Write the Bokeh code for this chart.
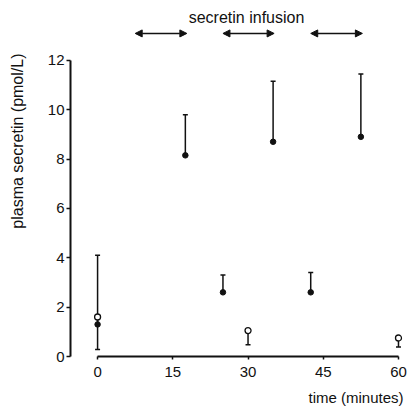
import math
from bokeh.plotting import figure
from bokeh.models import (Range1d, LinearAxis, FixedTicker, Label, Arrow, NormalHead,
                          Whisker, TeeHead, ColumnDataSource, Title)
from bokeh.embed import file_html
from bokeh.resources import INLINE

# ---- data ----
filled_t = [0, 17.5, 25, 35, 42.5, 52.5]
filled_mean = [1.3, 8.15, 2.6, 8.7, 2.6, 8.9]
filled_upper = [4.1, 9.8, 3.3, 11.15, 3.4, 11.45]

open_t = [0, 30, 60]
open_mean = [1.6, 1.05, 0.75]
open_lower = [0.28, 0.48, 0.38]

infusion_start = [7.5, 25, 42.5]
infusion_end = [17.8, 35.2, 52.8]

x_ticks = [0, 15, 30, 45, 60]
y_ticks = [0, 2, 4, 6, 8, 10, 12]

FONT = "Liberation Sans"
INK = "#111111"

p = figure(frame_width=333, frame_height=348, output_backend="svg", toolbar_location=None,
           x_range=Range1d(-5.4, 61), y_range=Range1d(0, 14.1),
           x_axis_type=None, y_axis_type=None,
           min_border_left=70, min_border_right=4, min_border_top=8, min_border_bottom=55)
p.outline_line_color = None
p.xgrid.visible = False
p.ygrid.visible = False
p.background_fill_color = "white"

xaxis = LinearAxis(ticker=FixedTicker(ticks=x_ticks), bounds=(0, 60))
yaxis = LinearAxis(ticker=FixedTicker(ticks=y_ticks), bounds=(0, 12))
for ax in (xaxis, yaxis):
    ax.axis_line_width = 2
    ax.axis_line_color = INK
    ax.major_tick_line_color = INK
    ax.major_tick_line_width = 1.5
    ax.major_tick_in = 0
    ax.minor_tick_line_color = None
    ax.major_label_text_font = FONT
    ax.major_label_text_font_size = "15px"
    ax.major_label_text_color = INK
xaxis.major_tick_out = 3
xaxis.major_label_standoff = 7
yaxis.major_tick_out = 4
yaxis.major_label_standoff = 2
p.add_layout(xaxis, "below")
p.add_layout(yaxis, "left")

# axis titles
p.add_layout(Title(text="time (minutes)", align="right", offset=0, standoff=14,
                   text_font=FONT, text_font_size="15px", text_font_style="normal",
                   text_color=INK), "below")
p.add_layout(Title(text="plasma secretin (pmol/L)\n ", align="right", offset=45, standoff=4,
                   text_line_height=1.0,
                   text_font=FONT, text_font_size="16px", text_font_style="normal",
                   text_color=INK), "left")

# error bars
fsrc = ColumnDataSource(dict(t=filled_t, m=filled_mean, u=filled_upper))
osrc = ColumnDataSource(dict(t=open_t, m=open_mean, l=open_lower))
p.add_layout(Whisker(source=fsrc, base="t", lower="m", upper="u", dimension="height",
                     line_color=INK, line_width=1.5, lower_head=None,
                     upper_head=TeeHead(size=5, line_color=INK, line_width=1.5)))
p.add_layout(Whisker(source=osrc, base="t", lower="l", upper="m", dimension="height",
                     line_color=INK, line_width=1.5, upper_head=None,
                     lower_head=TeeHead(size=5, line_color=INK, line_width=1.5)))

p.scatter("t", "m", source=fsrc, size=5.5, fill_color=INK, line_color=INK)
p.scatter("t", "m", source=osrc, size=6, fill_color="white", line_color=INK, line_width=1.3)

# infusion arrows
arrow_y = 13.09
for s, e in zip(infusion_start, infusion_end):
    p.add_layout(Arrow(x_start=s, y_start=arrow_y, x_end=e, y_end=arrow_y,
                       line_color=INK, line_width=1.5,
                       start=NormalHead(size=7, fill_color=INK, line_color=INK, line_width=1),
                       end=NormalHead(size=7, fill_color=INK, line_color=INK, line_width=1)))

p.add_layout(Label(x=29.7, y=13.74, text="secretin infusion", text_align="center",
                   text_baseline="middle", text_font=FONT, text_font_size="16px",
                   text_color=INK))

open("out.html", "w").write(file_html(p, INLINE))
